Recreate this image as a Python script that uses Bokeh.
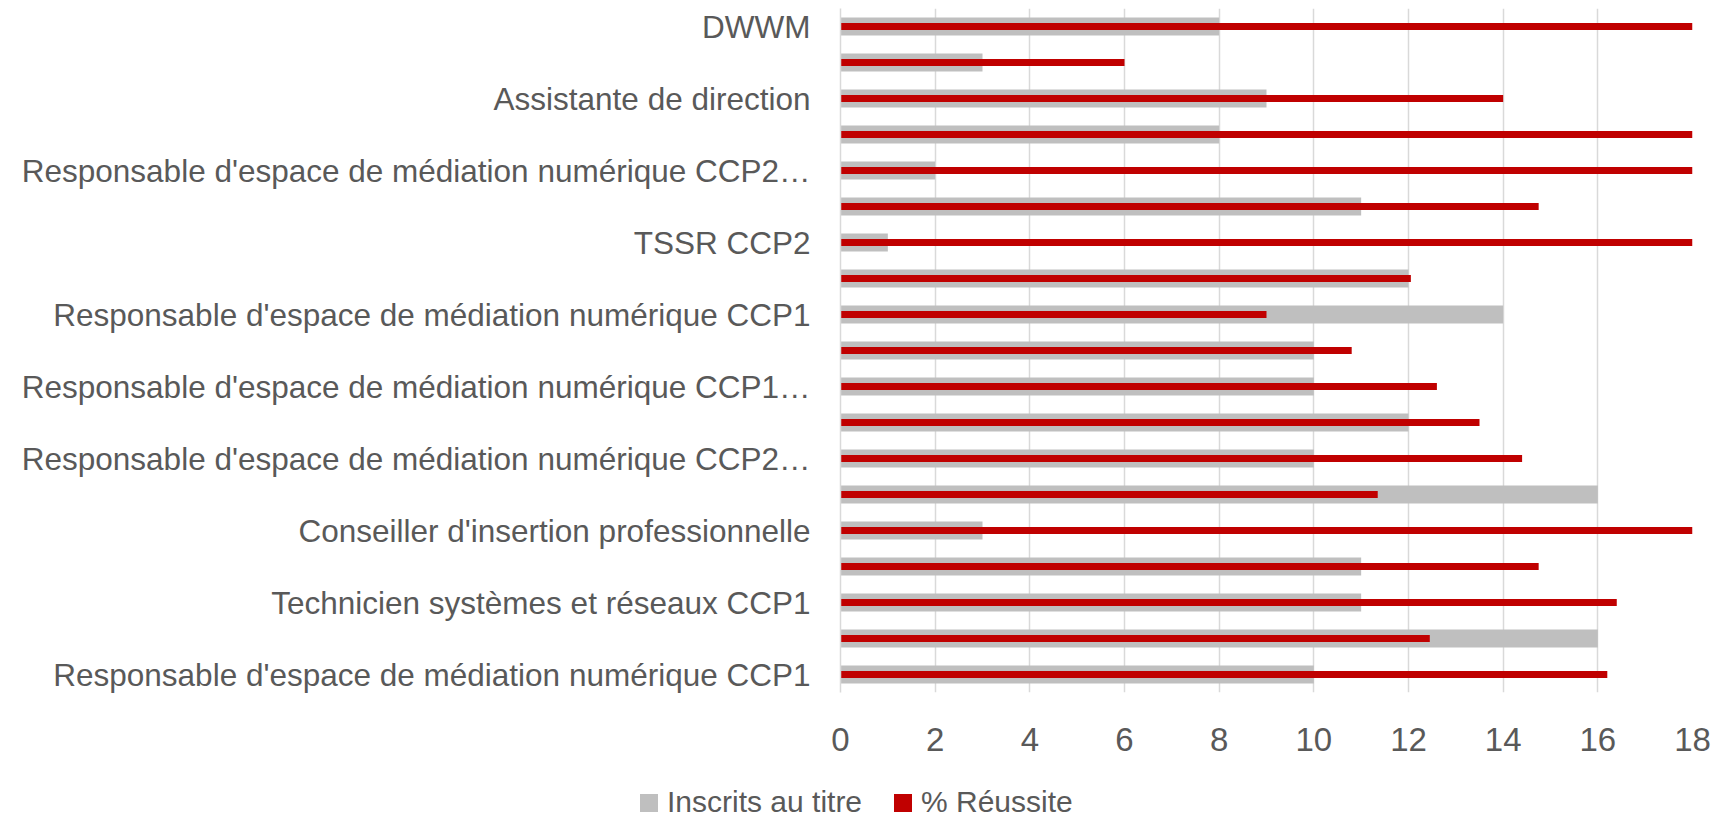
from bokeh.plotting import figure
from bokeh.layouts import column
from bokeh.models import Range1d, FixedTicker, ColumnDataSource, Div
from bokeh.embed import file_html
from bokeh.resources import INLINE

# Rows from top to bottom (every other label is hidden in the original chart)
categories = [
    "DWWM", "",
    "Assistante de direction", "",
    "Responsable d'espace de médiation numérique CCP2…", "",
    "TSSR CCP2", "",
    "Responsable d'espace de médiation numérique CCP1", "",
    "Responsable d'espace de médiation numérique CCP1…", "",
    "Responsable d'espace de médiation numérique CCP2…", "",
    "Conseiller d'insertion professionnelle", "",
    "Technicien systèmes et réseaux CCP1", "",
    "Responsable d'espace de médiation numérique CCP1",
]
inscrits = [8, 3, 9, 8, 2, 11, 1, 12, 14, 10, 10, 12, 10, 16, 3, 11, 11, 16, 10]
reussite = [100, 6, 14, 100, 100, 14.75, 100, 12.05, 9, 10.8, 12.6, 13.5, 14.4,
            11.35, 100, 14.75, 16.4, 12.45, 16.2]
x_ticks = [0, 2, 4, 6, 8, 10, 12, 14, 16, 18]
series_names = ["Inscrits au titre", "% Réussite"]
series_colors = ["#bfbfbf", "#c00000"]

FONT = "Liberation Sans"
TXT = "#595959"

rows = list(range(len(categories)))
src = ColumnDataSource(dict(row=rows, inscrits=inscrits, reussite=reussite))

p = figure(width=1722, height=767, output_backend="svg", toolbar_location=None,
           x_range=Range1d(0, 18), y_range=Range1d(len(categories) - 0.5, -0.5),
           min_border_left=840, min_border_right=30, min_border_top=8,
           min_border_bottom=75)
p.outline_line_color = None
p.background_fill_color = "white"

p.hbar(y="row", right="inscrits", left=0, height=0.5, source=src,
       fill_color=series_colors[0], line_color=None)
p.hbar(y="row", right="reussite", left=0, height=0.2, source=src,
       fill_color=series_colors[1], line_color=None)

# x axis
p.xaxis.ticker = FixedTicker(ticks=x_ticks)
p.xaxis.axis_line_color = None
p.xaxis.major_tick_line_color = None
p.xaxis.major_tick_out = 0
p.xaxis.minor_tick_line_color = None
p.xaxis.minor_tick_out = 0
p.xaxis.major_label_text_font = FONT
p.xaxis.major_label_text_font_size = "33px"
p.xaxis.major_label_text_color = TXT
p.xaxis.major_label_standoff = 35

# y axis
shown = [i for i, c in enumerate(categories) if c]
p.yaxis.ticker = FixedTicker(ticks=shown)
p.yaxis.major_label_overrides = {i: categories[i] for i in shown}
p.yaxis.axis_line_color = "#d9d9d9"
p.yaxis.axis_line_width = 1.5
p.yaxis.major_tick_line_color = None
p.yaxis.major_tick_out = 0
p.yaxis.minor_tick_line_color = None
p.yaxis.minor_tick_out = 0
p.yaxis.major_label_text_font = FONT
p.yaxis.major_label_text_font_size = "31.5px"
p.yaxis.major_label_text_color = TXT
p.yaxis.major_label_standoff = 30

p.xgrid.grid_line_color = "#d9d9d9"
p.xgrid.grid_line_width = 1.5
p.ygrid.grid_line_color = None

# legend strip below the chart
sq_left = [640, 894]
parts = []
for name, col, x0 in zip(series_names, series_colors, sq_left):
    parts.append(
        f'<span style="position:absolute;left:{x0}px;top:27px;width:18px;'
        f'height:18px;background:{col};"></span>'
        f'<span style="position:absolute;left:{x0 + 27}px;top:18px;'
        f'line-height:34px;white-space:nowrap;">{name}</span>'
    )
legend_div = Div(
    text=('<div style="position:relative;width:1722px;height:52px;'
          f"font-family:'{FONT}';font-size:30px;color:{TXT};\">"
          + "".join(parts) + "</div>"),
    width=1722, height=52, margin=0,
)

layout = column(p, legend_div, spacing=0)
open("out.html", "w").write(file_html(layout, INLINE))
